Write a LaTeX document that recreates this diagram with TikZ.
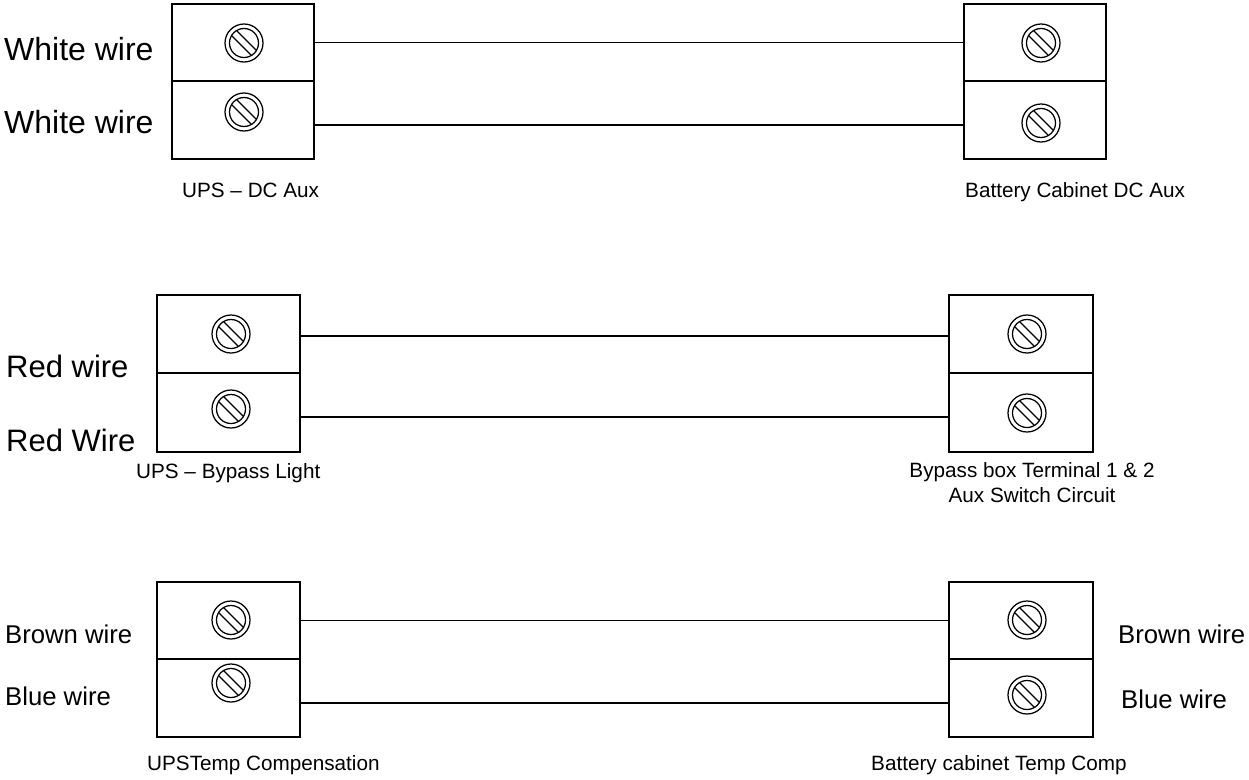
\documentclass[tikz,border=0pt]{standalone}
\usepackage{fontspec}
\setmainfont{Liberation Sans}
\usetikzlibrary{fit}
\begin{document}
\begin{tikzpicture}[x=1pt,y=-1pt,
  cell/.style={draw, line width=2pt, inner sep=0pt},
  wire/.style={line width=1.5pt},
  bigw/.style={anchor=base west, inner sep=0pt, font=\fontsize{32}{36}\selectfont},
  big/.style={anchor=base west, inner sep=0pt, font=\fontsize{31}{36}\selectfont},
  mid/.style={anchor=base west, inner sep=0pt, font=\fontsize{25.7}{30}\selectfont},
  small/.style={anchor=base west, inner sep=0pt, font=\fontsize{20.7}{25}\selectfont},
  screw/.pic={
    \draw[line width=1.25pt] (0,0) circle (19);
    \draw[line width=1.25pt] (0,0) circle (14.5);
    \draw[line width=1.25pt] (-7.48,-12.43) -- (12.43,7.48);
    \draw[line width=1.25pt] (-12.43,-7.48) -- (7.48,12.43);
  }]
\useasboundingbox (0,0) rectangle (1249,779);

% Block 1
\node[cell, fit={(172,4) (314,81)}] (L1a) {};
\node[cell, fit={(172,81) (314,159)}] (L1b) {};
\node[cell, fit={(964,4) (1106,81)}] (R1a) {};
\node[cell, fit={(964,81) (1106,159)}] (R1b) {};
\pic at (244,43) {screw};
\pic at (244,112) {screw};
\pic at (1041,43) {screw};
\pic at (1041,123) {screw};
\draw[wire] (L1a.east) -- (R1a.west);
\draw[wire] ([yshift=-5pt]L1b.east) -- ([yshift=-5pt]R1b.west);
\node[bigw] (t1) at (4,60) {White wire};
\node[bigw] (t2) at (4,133) {White wire};
\node[small] (c1) at (182,197) {UPS – DC Aux};
\node[small] (c2) at (965,197) {Battery Cabinet DC Aux};

% Block 2
\node[cell, fit={(157,295) (300,373)}] (L2a) {};
\node[cell, fit={(157,373) (300,452)}] (L2b) {};
\node[cell, fit={(949,295) (1093,373)}] (R2a) {};
\node[cell, fit={(949,373) (1093,452)}] (R2b) {};
\pic at (231,334) {screw};
\pic at (231,409) {screw};
\pic at (1027,334) {screw};
\pic at (1027,413) {screw};
\draw[wire] ([yshift=-2pt]L2a.east) -- ([yshift=-2pt]R2a.west);
\draw[wire] ([yshift=-4.5pt]L2b.east) -- ([yshift=-4.5pt]R2b.west);
\node[big] (t3) at (6,377) {Red wire};
\node[big] (t4) at (6,451) {Red Wire};
\node[small] (c3) at (136,478) {UPS – Bypass Light};
\node[align=center, inner sep=0pt, anchor=base, font=\fontsize{20.7}{25}\selectfont] (c4) at (1032,502) {Bypass box Terminal 1 \& 2\\Aux Switch Circuit};

% Block 3
\node[cell, fit={(157,582) (300,659)}] (L3a) {};
\node[cell, fit={(157,659) (300,737)}] (L3b) {};
\node[cell, fit={(949,582) (1093,659)}] (R3a) {};
\node[cell, fit={(949,659) (1093,737)}] (R3b) {};
\pic at (231,620) {screw};
\pic at (231,683) {screw};
\pic at (1027,620) {screw};
\pic at (1027,695) {screw};
\draw[wire] (L3a.east) -- (R3a.west);
\draw[wire] ([yshift=-5pt]L3b.east) -- ([yshift=-5pt]R3b.west);
\node[mid] (t5) at (5,643) {Brown wire};
\node[mid] (t6) at (5,705) {Blue wire};
\node[mid] (t7) at (1118,643) {Brown wire};
\node[mid] (t8) at (1121,708) {Blue wire};
\node[small] (c5) at (147,770) {UPSTemp Compensation};
\node[small] (c6) at (871,770) {Battery cabinet Temp Comp};
\end{tikzpicture}
\end{document}
